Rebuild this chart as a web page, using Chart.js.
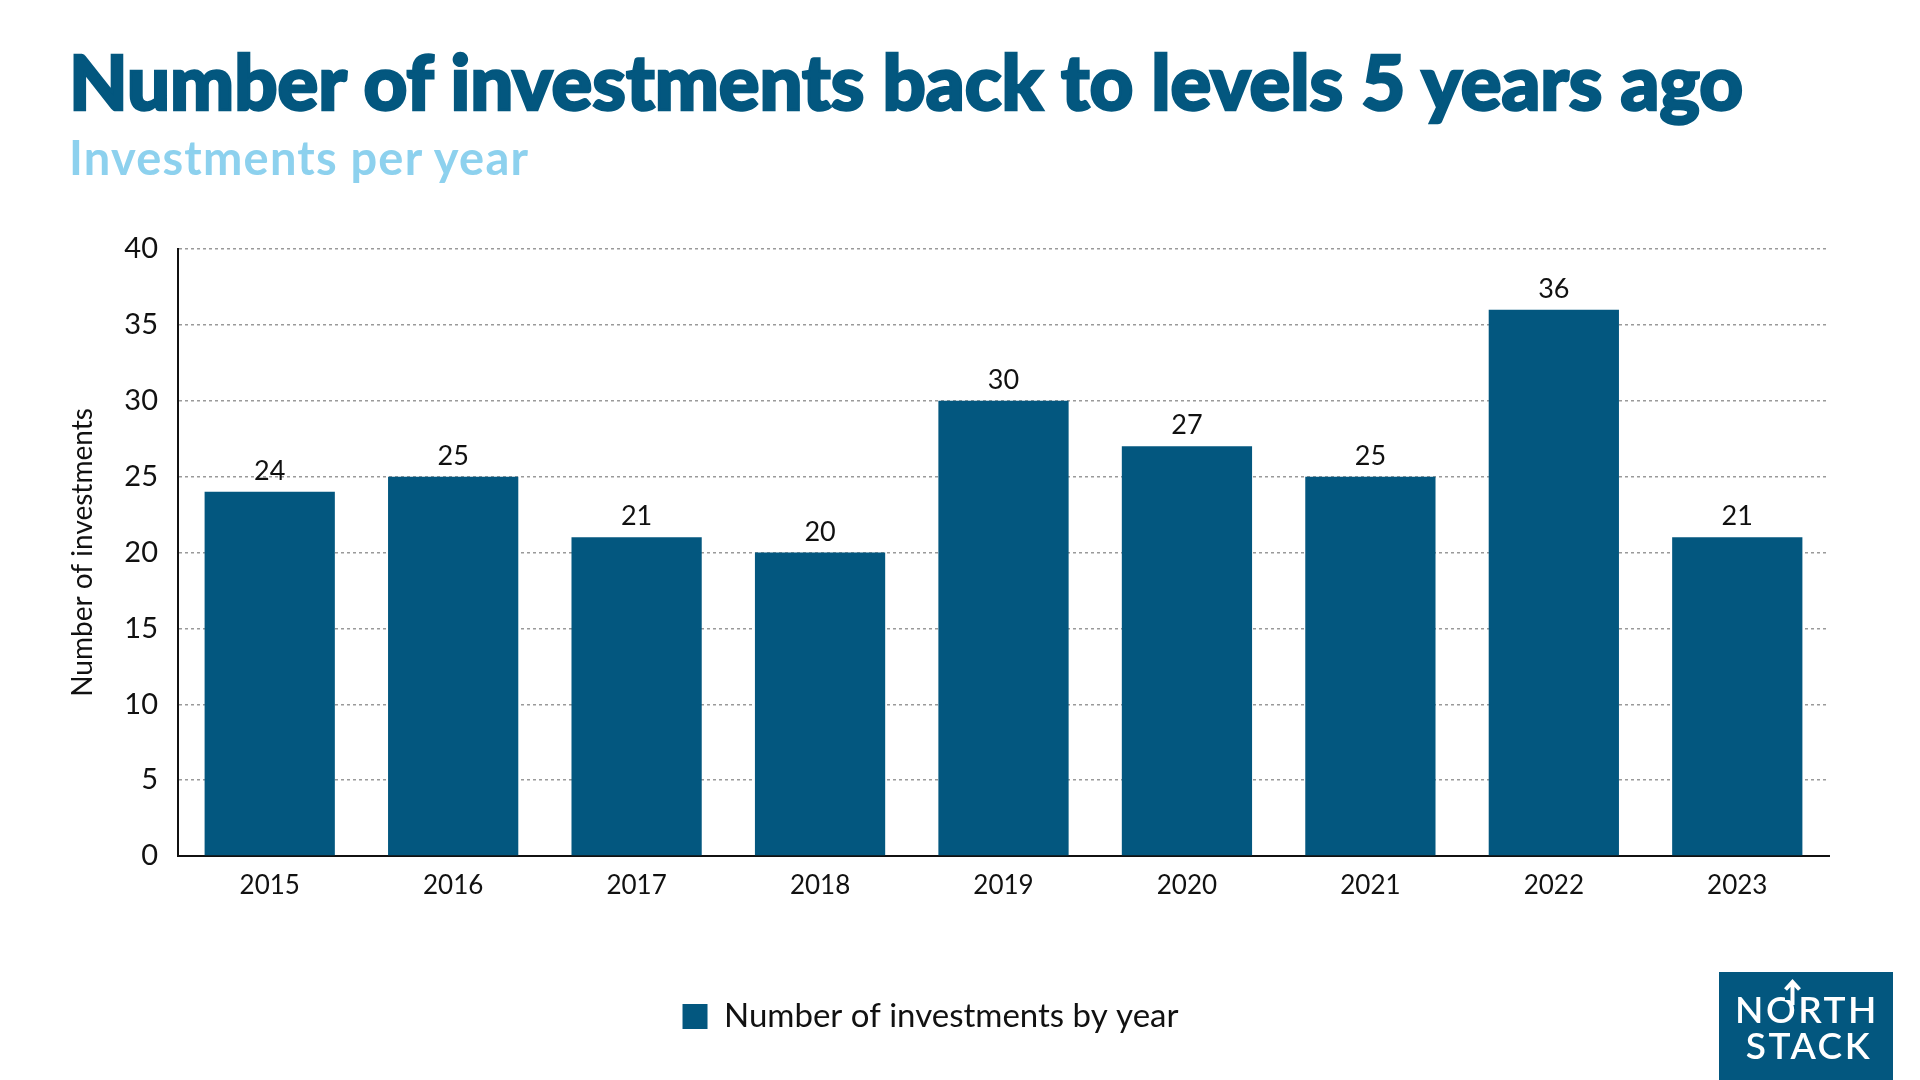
<!DOCTYPE html>
<html>
<head>
<meta charset="utf-8">
<script src="https://cdn.jsdelivr.net/npm/chart.js@4.4.1/dist/chart.umd.min.js"></script>
<style>
  html, body { margin:0; padding:0; background:#fff; }
  body { width:1920px; height:1080px; position:relative; overflow:hidden; font-family: Lato, "Open Sans", sans-serif; }
  #title { position:absolute; left:69px; top:43px; font-size:76px; font-weight:900; color:#03577f; white-space:nowrap; line-height:1; -webkit-text-stroke:2.5px #03577f; letter-spacing:0px; }
  #subtitle { position:absolute; left:69px; top:134px; font-size:47px; font-weight:700; color:#8dd1ee; white-space:nowrap; line-height:1; letter-spacing:1.2px; }
  #wrap { position:absolute; left:0; top:0; width:1920px; height:1080px; }
  #logo { position:absolute; left:1719px; top:972px; width:174px; height:108px; background:#03577f; color:#fff; font-size:37px; font-weight:600; line-height:34px; text-align:center; letter-spacing:2.5px; }
  #logo .l1 { position:absolute; left:1px; width:174px; top:20px; }
  #logo .l2 { position:absolute; left:3px; width:174px; top:56px; }
  #logo svg { position:absolute; left:0; top:0; }
</style>
</head>
<body>
<div id="wrap"><canvas id="c" width="1920" height="1080"></canvas></div>
<div id="title">Number of investments back to levels 5 years ago</div>
<div id="subtitle">Investments per year</div>
<div id="logo"><div class="l1">NORTH</div><div class="l2">STACK</div>
  <svg width="174" height="108" viewBox="0 0 174 108"><rect x="66" y="14" width="15" height="14" fill="#03577f"/><path d="M73.5 33 L73.5 11 M66.5 17.5 L73.5 10 L80.5 17.5" stroke="#fff" stroke-width="4" fill="none"/></svg>
</div>
<script>
const categories = ["2015","2016","2017","2018","2019","2020","2021","2022","2023"];
const investments = [24, 25, 21, 20, 30, 27, 25, 36, 21];
const seriesLabel = "Number of investments by year";
const yAxisTitle = "Number of investments";

const FONT = 'Lato, "Open Sans", sans-serif';
const BAR = '#03577f';

const valueLabels = {
  id: 'valueLabels',
  afterDatasetsDraw(chart) {
    const ctx = chart.ctx;
    const meta = chart.getDatasetMeta(0);
    const data = chart.data.datasets[0].data;
    ctx.save();
    ctx.font = '27px ' + FONT;
    ctx.fillStyle = '#111';
    ctx.textAlign = 'center';
    ctx.textBaseline = 'alphabetic';
    meta.data.forEach((bar, i) => ctx.fillText(String(data[i]), bar.x, bar.y - 12));
    ctx.restore();
  }
};
const legendShift = {
  id: 'legendShift',
  afterLayout(chart) {
    if (chart.legend) { chart.legend.left += 16; chart.legend.right += 16; }
  }
};

new Chart(document.getElementById('c'), {
  type: 'bar',
  data: {
    labels: categories,
    datasets: [{ label: seriesLabel, data: investments, backgroundColor: BAR, borderWidth: 0,
                 categoryPercentage: 0.71, barPercentage: 1 }]
  },
  options: {
    responsive: false,
    animation: false,
    devicePixelRatio: 1,
    layout: { padding: { top: 249, left: 0, right: 91, bottom: 37 } },
    plugins: {
      legend: {
        position: 'bottom',
        labels: { boxWidth: 25, boxHeight: 25, padding: 10, color: '#111', font: { family: FONT, size: 33 } }
      },
      tooltip: { enabled: false },
      title: { display: false }
    },
    scales: {
      x: {
        grid: { display: false, drawTicks: false },
        border: { display: true, color: '#111', width: 2 },
        ticks: { color: '#111', padding: 14, font: { family: FONT, size: 26 } },
        afterFit(s) { s.height = 134; }
      },
      y: {
        min: 0, max: 40,
        ticks: { stepSize: 5, color: '#111', padding: 20, font: { family: FONT, size: 29 } },
        grid: { color: '#9a9a9a', lineWidth: 1.5, drawTicks: false },
        border: { display: true, color: '#111', width: 2, dash: [3, 3] },
        title: { display: true, text: yAxisTitle, color: '#111', font: { family: FONT, size: 28 }, padding: { top: 66, bottom: 0 } },
        afterFit(s) { s.width = 178; }
      }
    }
  },
  plugins: [valueLabels, legendShift]
});
</script>
</body>
</html>
